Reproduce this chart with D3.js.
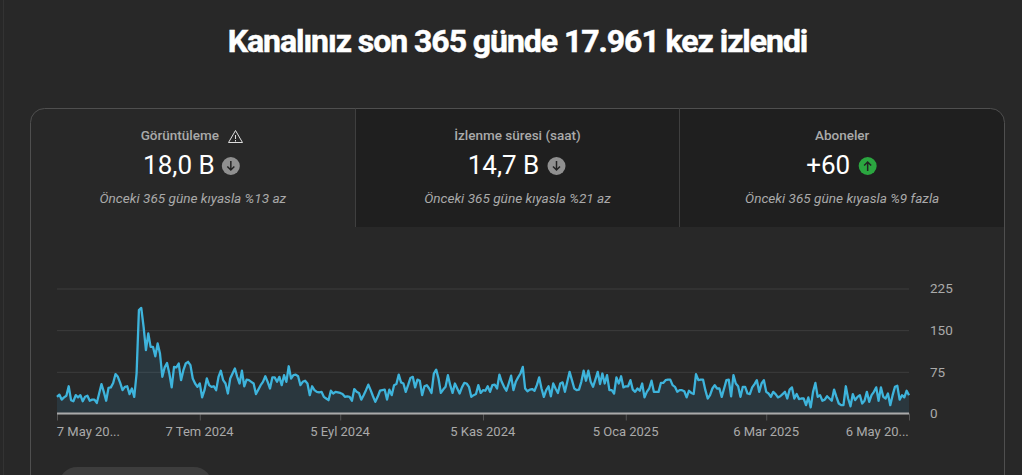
<!DOCTYPE html>
<html>
<head>
<meta charset="utf-8">
<script src="https://cdn.jsdelivr.net/npm/d3@7"></script>
<style>
  html, body { margin: 0; padding: 0; background: #282828; overflow: hidden; }
  text { font-family: Roboto, sans-serif; }
</style>
</head>
<body>
<svg id="chart" width="1022" height="475"></svg>
<script>
// daily views, 7 May 2024 -> 6 May 2025
const views = [
  30,34,25,29,32,49,24,22,33,29,
  33,22,30,32,23,25,25,19,36,53,
  39,23,46,47,55,71,66,55,42,48,
  49,35,45,30,72,186,190,156,114,144,
  120,120,103,126,108,66,83,91,72,47,
  84,83,90,60,78,90,93,87,63,54,
  48,54,29,42,63,51,48,49,42,66,
  77,60,54,36,63,72,81,66,54,77,
  49,61,60,57,54,35,43,
  51,57,67,57,45,65,65,57,66,51,
  69,57,85,63,69,70,67,51,57,59,
  54,33,49,42,39,38,39,30,27,24,
  41,36,39,38,37,35,30,31,30,23,
  44,39,37,25,33,42,52,42,31,21,
  30,41,42,43,25,43,33,51,53,70,
  56,54,39,51,64,66,47,61,59,33,
  49,51,45,37,72,79,63,37,43,48,
  69,51,37,54,45,36,47,55,54,48,
  30,33,35,51,37,42,41,49,39,
  51,52,45,70,57,48,41,54,68,42,
  57,65,72,84,45,40,43,44,41,51,
  65,45,30,42,49,31,54,45,37,54,
  56,39,57,75,60,45,42,43,57,77,
  59,77,57,48,61,75,53,72,54,69,
  42,42,36,65,54,67,47,49,49,60,
  43,39,45,41,54,29,39,45,59,39,
  39,39,55,55,60,61,61,51,48,39,
  42,42,40,29,41,37,35,71,60,61,
  61,42,27,33,45,51,45,45,30,
  45,60,61,31,69,54,49,30,48,48,
  36,35,47,53,60,39,54,60,39,36,
  30,39,35,29,31,35,39,27,43,47,
  27,35,26,27,27,15,29,11,39,55,
  30,33,23,25,31,27,23,43,30,18,
  15,15,49,27,13,35,24,30,33,18,
  23,39,21,33,39,47,23,47,30,27,
  36,15,33,48,50,25,33,29,41,33
]
const yTicks = [0, 75, 150, 225]
const tickDates = ['2024-05-07','2024-07-07','2024-09-05','2024-11-05','2025-01-05','2025-03-06','2025-05-06']
const tickLabels = ['7 May 20...','7 Tem 2024','5 Eyl 2024','5 Kas 2024','5 Oca 2025','6 Mar 2025','6 May 20...']

const tabTitles = ['Görüntüleme','İzlenme süresi (saat)','Aboneler']
const tabValues = ['18,0 B','14,7 B','+60']
const tabTrends = ['down','down','up']
const tabNotes = ['Önceki 365 güne kıyasla %13 az','Önceki 365 güne kıyasla %21 az','Önceki 365 güne kıyasla %9 fazla']

const parse = d3.utcParse('%Y-%m-%d')
const start = parse(tickDates[0])
const days = views.map((v, i) => d3.utcDay.offset(start, i))

const svg = d3.select('#chart')

// sidebar edge
svg.append('line').attr('x1', 3.5).attr('x2', 3.5).attr('y1', 0).attr('y2', 475).attr('stroke', '#333')

svg.append('text')
  .attr('x', 517.5).attr('y', 52)
  .attr('text-anchor', 'middle')
  .attr('fill', '#fff')
  .attr('stroke', '#fff')
  .attr('stroke-width', 0.5)
  .style('font-size', '32px')
  .style('font-weight', 700)
  .style('letter-spacing', '-1.05px')
  .text('Kanalınız son 365 günde 17.961 kez izlendi')

// card with the tab strip
const cardL = 30.5, cardR = 1004.5, cardT = 108.5, tabB = 227, r = 14
const tabW = (cardR - cardL) / 3
const dividers = [355.5, 679.5]

svg.append('path')
  .attr('d', `M${dividers[0]},${cardT}H${cardR - r}A${r},${r} 0 0 1 ${cardR},${cardT + r}V${tabB}H${dividers[0]}Z`)
  .attr('fill', '#1f1f1f')

svg.append('path')
  .attr('d', `M${cardL},475V${cardT + r}A${r},${r} 0 0 1 ${cardL + r},${cardT}H${cardR - r}A${r},${r} 0 0 1 ${cardR},${cardT + r}V475`)
  .attr('fill', 'none')
  .attr('stroke', '#4f4f4f')

svg.selectAll('line.divider')
  .data(dividers)
  .enter()
  .append('line')
  .attr('class', 'divider')
  .attr('x1', d => d).attr('x2', d => d)
  .attr('y1', cardT).attr('y2', tabB)
  .attr('stroke', '#3f3f3f')

const tabs = svg.selectAll('g.tab')
  .data(tabTitles)
  .enter()
  .append('g')
  .attr('class', 'tab')
  .attr('transform', (d, i) => `translate(${cardL + tabW * i + tabW / 2},0)`)

tabs.append('text')
  .attr('x', (d, i) => i == 0 ? -13 : 0).attr('y', 140)
  .attr('text-anchor', 'middle')
  .attr('fill', '#aaa')
  .style('font-size', '13.5px')
  .style('font-weight', 500)
  .text(d => d)

tabs.append('text')
  .attr('x', -14).attr('y', 174)
  .attr('text-anchor', 'middle')
  .attr('fill', '#fff')
  .style('font-size', '26px')
  .text((d, i) => tabValues[i])

tabs.append('text')
  .attr('x', 0).attr('y', 203)
  .attr('text-anchor', 'middle')
  .attr('fill', '#aaa')
  .style('font-size', '13.6px')
  .style('font-style', 'italic')
  .text((d, i) => tabNotes[i])

// trend badges
const badge = tabs.append('g')
  .attr('transform', (d, i) => `translate(${[38, 39, 25.5][i]},166)`)
badge.append('circle')
  .attr('r', 9)
  .attr('fill', (d, i) => tabTrends[i] == 'up' ? '#2ba640' : '#909090')
badge.append('path')
  .attr('d', (d, i) => tabTrends[i] == 'up' ? 'M0,5V-4M-3.5,-0.5L0,-4L3.5,-0.5' : 'M0,-5V4M-3.5,0.5L0,4L3.5,0.5')
  .attr('fill', 'none')
  .attr('stroke', '#222')
  .attr('stroke-width', 1.5)

// warning sign next to the first title
svg.append('path')
  .attr('d', 'M235.5,130.5L242.5,142.5H228.5ZM235.5,135V139M235.5,140V141.5')
  .attr('fill', 'none')
  .attr('stroke', '#ddd')

// chart
const x = d3.scaleUtc().domain([start, parse(tickDates[6])]).range([57, 909])
const y = d3.scaleLinear().domain([0, 225]).range([413.5, 288.5])

const yAxis = d3.axisRight(y)
  .tickValues(yTicks)
  .tickSize(852)
  .tickPadding(21)
const gy = svg.append('g')
  .attr('transform', 'translate(57,0)')
  .call(yAxis)
gy.select('.domain').remove()
gy.selectAll('line').attr('stroke', '#3d3d3d')
gy.selectAll('text')
  .attr('fill', '#aaa')
  .style('font-size', '13.5px')
  .style('font-family', 'Roboto, sans-serif')

const area = d3.area()
  .x((d, i) => x(days[i]))
  .y0(y(0))
  .y1(d => y(d))

const line = d3.line()
  .x((d, i) => x(days[i]))
  .y(d => y(d))

svg.append('path')
  .attr('d', area(views))
  .attr('fill', '#3ea6d8')
  .attr('fill-opacity', 0.13)

svg.append('path')
  .attr('d', line(views))
  .attr('fill', 'none')
  .attr('stroke', '#3eb4dc')
  .attr('stroke-width', 2.3)
  .attr('stroke-linejoin', 'round')

const xAxis = d3.axisBottom(x)
  .tickValues(tickDates.map(parse))
  .tickSize(7)
  .tickPadding(6)
  .tickFormat((d, i) => tickLabels[i])
const gx = svg.append('g')
  .attr('transform', 'translate(0,413.5)')
  .call(xAxis)
gx.select('.domain').remove()
gx.selectAll('line').attr('stroke', '#555')
gx.selectAll('text')
  .attr('dx', -0.7)
  .attr('fill', '#aaa')
  .style('font-size', '13px')
  .style('font-family', 'Roboto, sans-serif')
  .attr('text-anchor', (d, i) => i == 0 ? 'start' : i == tickLabels.length - 1 ? 'end' : 'middle')

// baseline on top of the area
svg.append('line')
  .attr('x1', 57).attr('x2', 909)
  .attr('y1', y(0)).attr('y2', y(0))
  .attr('stroke', '#aaa')
  .attr('stroke-width', 2)

// button cut off by the window
svg.append('rect')
  .attr('x', 59).attr('y', 467)
  .attr('width', 153).attr('height', 36)
  .attr('rx', 18)
  .attr('fill', '#3d3d3d')
</script>
</body>
</html>
